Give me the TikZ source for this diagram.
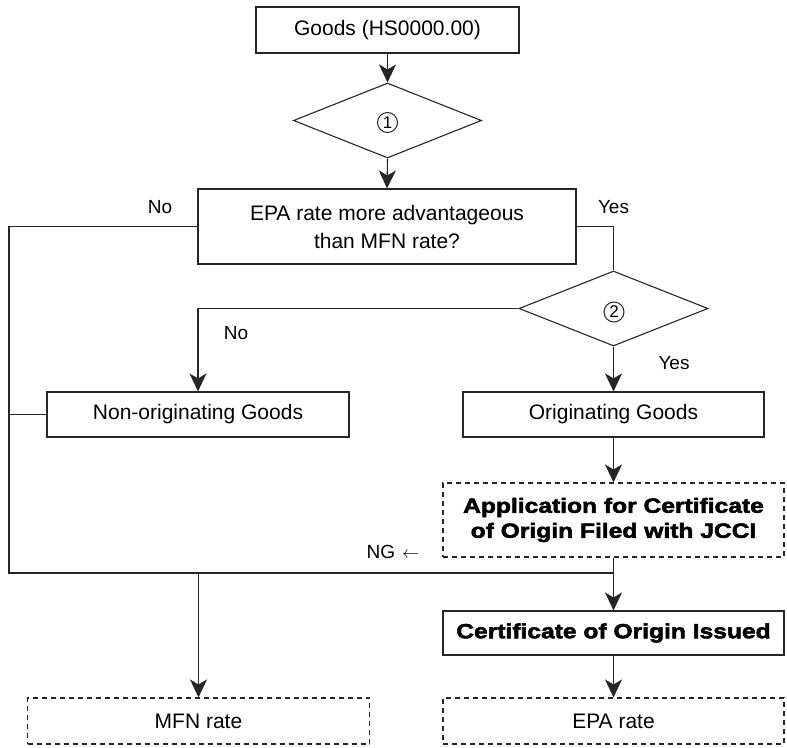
\documentclass[tikz,border=0pt]{standalone}
\usepackage{fontspec}
\setmainfont{Liberation Sans}
\newfontfamily\dejavu{DejaVu Sans}
\newfontfamily\heavyfont[FakeStretch=1.2,FakeBold=2.5]{Liberation Sans Bold}
\usetikzlibrary{shapes.geometric,arrows.meta}
\begin{document}
\begin{tikzpicture}[x=1pt,y=-1pt,
  conn/.style={draw=black!85,line width=1.1pt},
  arr/.style={conn,-{Stealth[length=18pt,width=17pt,inset=5pt]}},
  boxnode/.style={draw=black!85,line width=1.1pt,rectangle,inner sep=0pt,align=center,
    font=\fontsize{21}{28}\selectfont},
  dashbox/.style={boxnode,dash pattern=on 5pt off 4pt},
  boldtext/.style={font=\heavyfont\fontsize{20.5}{25}\selectfont},
  decision/.style={draw=black!85,line width=1.1pt,diamond,inner sep=0pt},
  numcirc/.style={draw=black!85,line width=1pt,circle,minimum size=20pt,inner sep=0pt,
    font=\fontsize{17}{17}\selectfont},
  lbl/.style={font=\fontsize{19}{22}\selectfont,inner sep=0pt}]
\useasboundingbox (0,0) rectangle (787,747);
% nodes
\node[boxnode,minimum width=263pt,minimum height=46pt] (goods) at (387.5,30) {Goods (HS0000.00)};
\node[decision,minimum width=188pt,minimum height=75pt] (d1) at (387.5,120.5) {};
\node[numcirc] (n1) at (387.5,122.5) {1};
\node[boxnode,minimum width=378pt,minimum height=75pt] (epaq) at (387,226.5) {EPA rate more advantageous\\than MFN rate?};
\node[decision,minimum width=189pt,minimum height=75pt] (d2) at (613.5,308.5) {};
\node[numcirc] (n2) at (614,312) {2};
\node[boxnode,minimum width=302pt,minimum height=45pt] (nonorig) at (198,414.5) {Non-originating Goods};
\node[boxnode,minimum width=301pt,minimum height=45pt] (orig) at (613.5,414.5) {Originating Goods};
\node[dashbox,boldtext,minimum width=341pt,minimum height=74pt] (app) at (613.5,520) {Application for Certificate\\of Origin Filed with JCCI};
\node[boxnode,boldtext,minimum width=341pt,minimum height=44pt] (cert) at (613.5,633) {Certificate of Origin Issued};
\node[dashbox,minimum width=342pt,minimum height=46pt] (mfn) at (198.5,721) {MFN rate};
\node[dashbox,minimum width=341pt,minimum height=46pt] (epar) at (613.5,721) {EPA rate};
% coordinates
\coordinate (lt) at (9,226.5);
\coordinate (lb) at (9,573);
\coordinate (join) at (613.5,573);
\coordinate (rt) at (613.5,226.5);
\coordinate (nt) at (198,308.5);
% connectors
\draw[arr] (goods.south) -- (d1.north);
\draw[arr] (d1.south) -- (epaq.north);
\draw[conn] (epaq.west) -- (lt) -- (lb) -- (join);
\draw[conn] (nonorig.west) -- (nonorig.west -| lt);
\draw[conn] (epaq.east) -- (rt) -- (d2.north);
\draw[arr] (d2.west) -- (nt) -- (nonorig.north);
\draw[arr] (d2.south) -- (orig.north);
\draw[arr] (orig.south) -- (app.north);
\draw[arr] (app.south) -- (cert.north);
\draw[arr] (mfn.north |- join) -- (mfn.north);
\draw[arr] (cert.south) -- (epar.north);
% labels
\node[lbl] (lno1) at (160,207) {No};
\node[lbl] (lyes1) at (613.5,207) {Yes};
\node[lbl] (lno2) at (236,333) {No};
\node[lbl] (lyes2) at (674,363) {Yes};
\node[lbl] (lng) at (393,552) {NG\hspace{7pt}{\fontsize{18}{18}\selectfont$\leftarrow$}};
\end{tikzpicture}
\end{document}
